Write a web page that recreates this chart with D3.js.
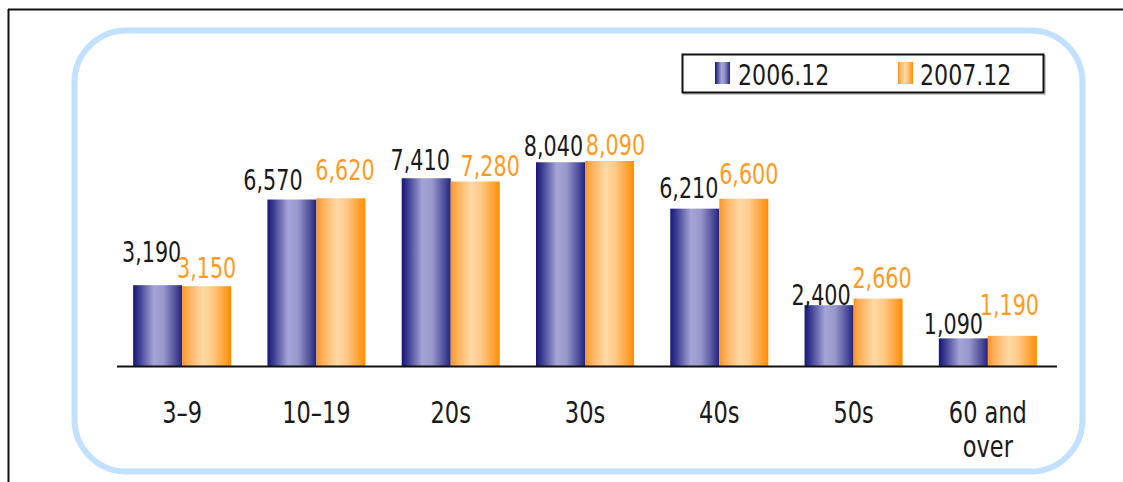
<!DOCTYPE html>
<html>
<head>
<meta charset="utf-8">
<script src="https://cdn.jsdelivr.net/npm/d3@7"></script>
<style>
  html, body { margin: 0; padding: 0; background: #fff; }
  svg { display: block; }
  text { font-family: "DejaVu Sans", sans-serif; }
</style>
</head>
<body>
<svg id="chart" width="1123" height="482"></svg>
<script>
// ---- data ----
const categories = ["3–9", "10–19", "20s", "30s", "40s", "50s", "60 and over"];
const seriesNames = ["2006.12", "2007.12"];
const values2006 = [3190, 6570, 7410, 8040, 6210, 2400, 1090];
const values2007 = [3150, 6620, 7280, 8090, 6600, 2660, 1190];

// ---- layout tweaks for the value labels ----
const labelGap2006 = [23, 10, 8, 6, 11, 0, 4];
const labelGap2007 = [8, 18, 6, 6, 15, 11, 21];
const labelDx2006 = [-6, -19, -6, -7, -6, -8, -10];
const labelDx2007 = [0, 4, 15, 6, 5, 4, -3];

const svg = d3.select("#chart");
const W = 1123, H = 482;

// gradients
const defs = svg.append("defs");
function grad(id, stops) {
  const g = defs.append("linearGradient").attr("id", id)
    .attr("x1", "0%").attr("x2", "100%").attr("y1", "0%").attr("y2", "0%");
  stops.forEach(s => g.append("stop").attr("offset", s[0]).attr("stop-color", s[1]));
}
grad("gBlue", [["0%", "#16167a"], ["12%", "#3a3a90"], ["42%", "#a4a4d6"], ["62%", "#9898cc"], ["88%", "#4a4a98"], ["100%", "#22227e"]]);
grad("gOrange", [["0%", "#ff9420"], ["12%", "#ffae58"], ["42%", "#ffd9a6"], ["62%", "#ffc886"], ["88%", "#ffa030"], ["100%", "#ff8c00"]]);

// outer frame (top + left lines)
svg.append("line").attr("x1", 8).attr("x2", W).attr("y1", 9.5).attr("y2", 9.5)
  .attr("stroke", "#111").attr("stroke-width", 2);
svg.append("line").attr("x1", 8.5).attr("x2", 8.5).attr("y1", 9).attr("y2", H)
  .attr("stroke", "#111").attr("stroke-width", 2);

// rounded light-blue panel
svg.append("rect").attr("x", 74.5).attr("y", 30.5).attr("width", 1008).attr("height", 441)
  .attr("rx", 52).attr("ry", 52)
  .attr("fill", "#fff").attr("stroke", "#c2e0ff").attr("stroke-width", 6);

// scales
const x0 = d3.scaleBand().domain(categories).range([115, 1055])
  .paddingInner(0.27).paddingOuter(0.135);
const x1 = d3.scaleBand().domain(seriesNames).range([0, x0.bandwidth()]).padding(0);
const baseY = 366;
const y = d3.scaleLinear().domain([0, 10000]).range([baseY, baseY - 253.4]);

const rows = categories.map((c, i) => ({
  cat: c, i,
  vals: [
    { s: seriesNames[0], v: values2006[i], gap: labelGap2006[i], dx: labelDx2006[i] },
    { s: seriesNames[1], v: values2007[i], gap: labelGap2007[i], dx: labelDx2007[i] }
  ]
}));

const fills = { "2006.12": "url(#gBlue)", "2007.12": "url(#gOrange)" };
const labelColors = { "2006.12": "#1a1a1a", "2007.12": "#ff9a1e" };
const fmt = d3.format(",");

const groups = svg.append("g").selectAll("g").data(rows).join("g")
  .attr("transform", d => `translate(${x0(d.cat)},0)`);

groups.selectAll("rect").data(d => d.vals).join("rect")
  .attr("x", d => x1(d.s))
  .attr("y", d => y(d.v))
  .attr("width", x1.bandwidth())
  .attr("height", d => baseY - y(d.v))
  .attr("fill", d => fills[d.s]);

// value labels (condensed via horizontal scale)
const SX = 0.74;
groups.selectAll("text.val").data(d => d.vals).join("text")
  .attr("class", "val")
  .attr("transform", d => `translate(${x1(d.s) + x1.bandwidth() / 2 + d.dx},${y(d.v) - d.gap}) scale(${SX},1)`)
  .attr("text-anchor", "middle")
  .attr("font-size", 28)
  .attr("fill", d => labelColors[d.s])
  .text(d => fmt(d.v));

// baseline axis
const xAxis = d3.axisBottom(x0).tickSize(0).tickFormat("");
const axisG = svg.append("g").attr("transform", `translate(0,${baseY})`).call(xAxis);
axisG.select(".domain").remove();
svg.append("line").attr("x1", 117).attr("x2", 1057).attr("y1", baseY + 0.5).attr("y2", baseY + 0.5)
  .attr("stroke", "#111").attr("stroke-width", 2);

// category labels
const catSX = 0.75;
const catLines = c => c === "60 and over" ? ["60 and", "over"] : [c];
const catG = svg.append("g");
categories.forEach(c => {
  catLines(c).forEach((ln, k) => {
    catG.append("text")
      .attr("transform", `translate(${x0(c) + x0.bandwidth() / 2},${423 + k * 34}) scale(${catSX},1)`)
      .attr("text-anchor", "middle")
      .attr("font-size", 30)
      .attr("fill", "#1a1a1a")
      .text(ln);
  });
});

// legend
const lg = svg.append("g");
lg.append("rect").attr("x", 684).attr("y", 56).attr("width", 361).attr("height", 38)
  .attr("fill", "none").attr("stroke", "#ccc").attr("stroke-width", 2);
lg.append("rect").attr("x", 682.5).attr("y", 54.5).attr("width", 361).attr("height", 38)
  .attr("fill", "#fff").attr("stroke", "#111").attr("stroke-width", 2);
const legendItems = [
  { s: seriesNames[0], sx: 715, tx: 738 },
  { s: seriesNames[1], sx: 898, tx: 920 }
];
legendItems.forEach(it => {
  lg.append("rect").attr("x", it.sx).attr("y", 62).attr("width", 15).attr("height", 22)
    .attr("fill", fills[it.s]);
  lg.append("text")
    .attr("transform", `translate(${it.tx},85) scale(0.79,1)`)
    .attr("font-size", 28).attr("fill", "#1a1a1a")
    .text(it.s);
});
</script>
</body>
</html>
